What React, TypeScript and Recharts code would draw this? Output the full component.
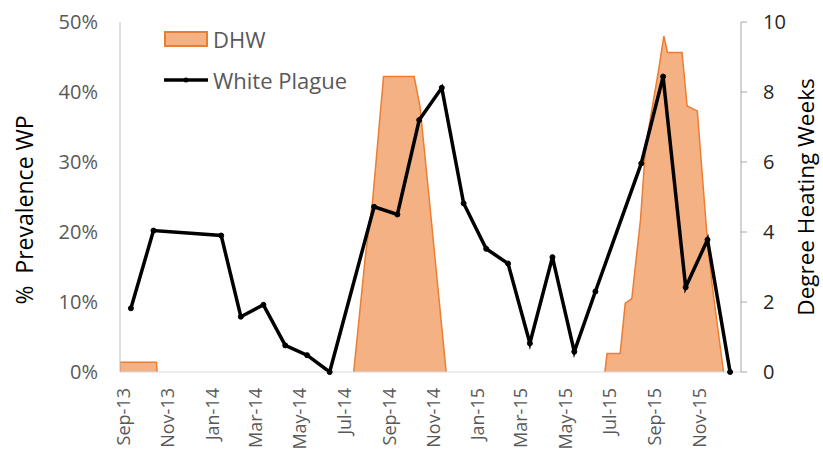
import { ComposedChart, Area, Line, XAxis, YAxis, Legend } from 'recharts';

const FONT = '"Open Sans", sans-serif';
const START = Date.UTC(2013, 8, 1);
const toDay = (iso: string) => Math.round((Date.parse(iso) - START) / 86400000);

const tickDates = [
  '2013-09-01', '2013-11-01', '2014-01-01', '2014-03-01', '2014-05-01', '2014-07-01', '2014-09-01',
  '2014-11-01', '2015-01-01', '2015-03-01', '2015-05-01', '2015-07-01', '2015-09-01', '2015-11-01',
];
const tickLabels = [
  'Sep-13', 'Nov-13', 'Jan-14', 'Mar-14', 'May-14', 'Jul-14', 'Sep-14',
  'Nov-14', 'Jan-15', 'Mar-15', 'May-15', 'Jul-15', 'Sep-15', 'Nov-15',
];

// white plague prevalence, % of colonies
const wpDates = [
  '2013-09-12', '2013-10-13', '2014-01-14', '2014-02-10', '2014-03-13', '2014-04-12', '2014-05-12',
  '2014-06-12', '2014-08-12', '2014-09-13', '2014-10-13', '2014-11-13', '2014-12-13', '2015-01-13',
  '2015-02-12', '2015-03-14', '2015-04-14', '2015-05-14', '2015-06-12', '2015-08-14', '2015-09-13',
  '2015-10-14', '2015-11-13', '2015-12-14',
];
const wpValues = [
  9.1, 20.2, 19.5, 7.9, 9.6, 3.8, 2.4,
  0, 23.6, 22.5, 36.0, 40.6, 24.1, 17.6,
  15.5, 4.1, 16.4, 2.9, 11.5, 29.8, 42.2,
  12.1, 18.9, 0,
];

// degree heating weeks (null = no stress, gap in the area)
const dhwDates = [
  '2013-08-28', '2013-08-28', '2013-10-17', '2013-10-18', '2014-03-01',
  '2014-07-15', '2014-07-31', '2014-08-10', '2014-08-25', '2014-10-06', '2014-10-14', '2014-10-26', '2014-11-19',
  '2015-03-01',
  '2015-06-25', '2015-06-28', '2015-07-16', '2015-07-23', '2015-08-01', '2015-08-13', '2015-08-20',
  '2015-09-07', '2015-09-14', '2015-09-19', '2015-10-09', '2015-10-16', '2015-10-30', '2015-11-12',
  '2015-11-19', '2015-12-05',
];
const dhwValues: (number | null)[] = [
  0, 0.28, 0.28, 0, null,
  0, 3.3, 4.9, 8.44, 8.44, 7.6, 5.1, 0,
  null,
  0, 0.53, 0.53, 1.97, 2.1, 4.36, 6.45,
  8.65, 9.6, 9.13, 9.13, 7.6, 7.46, 3.98,
  2.55, 0,
];

const wpData = wpDates.map((d, i) => ({ day: toDay(d), wp: wpValues[i] }));
const dhwData = dhwDates.map((d, i) => ({ day: toDay(d), dhw: dhwValues[i] }));
const xTicks = tickDates.map(toDay);
const xDomain = [toDay('2013-08-28'), toDay('2015-12-29')];

const DateTick = (props: any) => {
  const { x, y, payload } = props;
  const label = tickLabels[xTicks.indexOf(payload.value)];
  return (
    <text
      x={x}
      y={y}
      transform={`rotate(-90, ${x}, ${y})`}
      textAnchor="end"
      dominantBaseline="central"
      fill="#595959"
      fontSize={18}
      fontFamily={FONT}
    >
      {label}
    </text>
  );
};

const LeftTitle = () => (
  <text x={24} y={210} transform="rotate(-90, 24, 210)" textAnchor="middle" dominantBaseline="central"
    fontSize={23} fontFamily={FONT} fill="#000" style={{ whiteSpace: 'pre' }}>
    {'%  Prevalence WP'}
  </text>
);

const RightTitle = () => (
  <text x={805} y={197} transform="rotate(-90, 805, 197)" textAnchor="middle" dominantBaseline="central"
    fontSize={22.5} fontFamily={FONT} fill="#000">
    Degree Heating Weeks
  </text>
);

const LegendBox = () => (
  <div style={{ fontFamily: FONT, fontSize: 22, color: '#595959' }}>
    <div style={{ display: 'flex', alignItems: 'center', height: 41 }}>
      <span style={{ display: 'inline-block', width: 44, height: 16, background: '#F4B183', border: '2px solid #ED7D31', boxSizing: 'border-box' }} />
      <span style={{ marginLeft: 5 }}>DHW</span>
    </div>
    <div style={{ display: 'flex', alignItems: 'center', height: 41 }}>
      <svg width={44} height={10}>
        <line x1={0} y1={5} x2={44} y2={5} stroke="#000" strokeWidth={3.5} />
        <circle cx={22} cy={5} r={2.5} fill="#000" />
      </svg>
      <span style={{ marginLeft: 5 }}>White Plague</span>
    </div>
  </div>
);

export default function App() {
  return (
    <div style={{ position: 'absolute', left: 0, top: 0 }}>
      <ComposedChart width={823} height={452} margin={{ top: 22, right: 0, bottom: 0, left: 0 }}>
        <XAxis
          dataKey="day"
          type="number"
          domain={xDomain}
          ticks={xTicks}
          allowDataOverflow
          height={80}
          axisLine={{ stroke: '#D9D9D9' }}
          tickLine={false}
          tickSize={0}
          tickMargin={16}
          tick={<DateTick />}
        />
        <XAxis
          xAxisId="top"
          orientation="top"
          type="number"
          domain={xDomain}
          height={0}
          tick={false}
          tickLine={false}
          axisLine={{ stroke: '#BFBFBF' }}
        />
        <YAxis
          yAxisId="left"
          width={120}
          domain={[0, 50]}
          ticks={[0, 10, 20, 30, 40, 50]}
          tickFormatter={(v) => `${v}%`}
          axisLine={{ stroke: '#BFBFBF' }}
          tickLine={false}
          tickSize={0}
          tickMargin={22}
          tick={{ fill: '#595959', fontSize: 20, fontFamily: FONT }}
          label={<LeftTitle />}
        />
        <YAxis
          yAxisId="right"
          orientation="right"
          width={82}
          domain={[0, 10]}
          ticks={[0, 2, 4, 6, 8, 10]}
          axisLine={{ stroke: '#A6A6A6' }}
          tickLine={{ stroke: '#A6A6A6' }}
          tickSize={6}
          tickMargin={16}
          tick={{ fill: '#262626', fontSize: 20, fontFamily: FONT, textAnchor: 'start' }}
          label={<RightTitle />}
        />
        <Legend
          content={<LegendBox />}
          wrapperStyle={{ position: 'absolute', left: 164, top: 18, width: 'auto' }}
          verticalAlign="middle"
          align="center"
        />
        <Area
          yAxisId="right"
          data={dhwData}
          dataKey="dhw"
          name="DHW"
          type="linear"
          fill="#F4B183"
          fillOpacity={1}
          stroke="#ED7D31"
          strokeWidth={1.5}
          isAnimationActive={false}
        />
        <Line
          yAxisId="left"
          data={wpData}
          dataKey="wp"
          name="White Plague"
          type="linear"
          stroke="#000"
          strokeWidth={3.5}
          dot={{ r: 2.5, fill: '#000', stroke: '#000', strokeWidth: 1 }}
          isAnimationActive={false}
        />
      </ComposedChart>
    </div>
  );
}
